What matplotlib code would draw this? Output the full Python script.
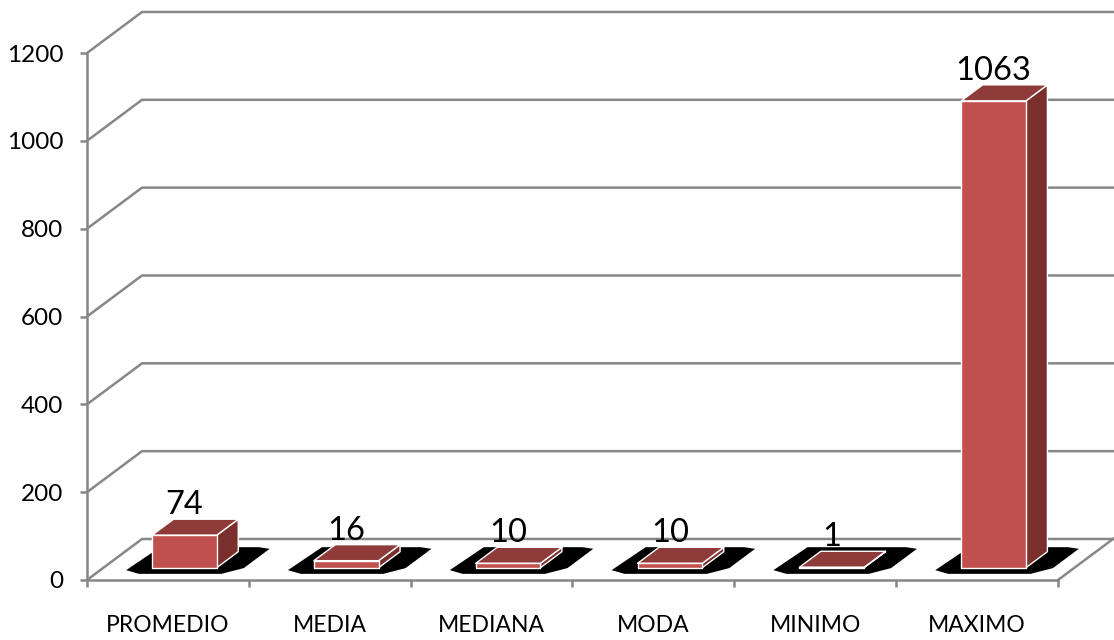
import matplotlib
matplotlib.use("Agg")
import matplotlib.pyplot as plt
from matplotlib.patches import Polygon

categories = ["PROMEDIO", "MEDIA", "MEDIANA", "MODA", "MINIMO", "MAXIMO"]
values = [74, 16, 10, 10, 1, 1063]
y_ticks = [0, 200, 400, 600, 800, 1000, 1200]

plt.rcParams['font.family'] = ['Lato', 'DejaVu Sans']

W, H = 1114, 640
fig = plt.figure(figsize=(W / 100, H / 100), dpi=100)
ax = fig.add_axes([87 / W, 60 / H, 971 / W, 527 / H])
ax.set_xlim(-0.5, 5.5)
ax.set_ylim(0, 1200)

# depth vector (data units) of the pseudo-3D box
DX = 0.34
DY = 93.4

grid_col = '#878787'
lw = 1.8

# back wall gridlines (diagonal on left wall + horizontal on back wall)
for v in y_ticks:
    ax.plot([-0.5, -0.5 + DX, 7.0], [v, v + DY, v + DY], color=grid_col,
            lw=lw, clip_on=False, zorder=1, solid_capstyle='butt')
# floor right edge
ax.plot([5.5, 5.5 + DX * 1.2], [0, DY * 1.2], color=grid_col, lw=lw,
        clip_on=False, zorder=1)

# spines
for s in ['top', 'right']:
    ax.spines[s].set_visible(False)
for s in ['left', 'bottom']:
    ax.spines[s].set_color(grid_col)
    ax.spines[s].set_linewidth(lw)
    ax.spines[s].set_zorder(1)

ax.set_yticks(y_ticks)
ax.set_yticklabels([str(v) for v in y_ticks])
ax.tick_params(axis='y', direction='out', length=5, width=lw, color=grid_col,
               labelsize=17.5, pad=12)
ax.set_xticks(range(len(categories)))
ax.set_xticklabels(categories)
ax.tick_params(axis='x', which='major', length=0, labelsize=16.5, pad=25.5)
ax.set_xticks([i - 0.5 for i in range(len(categories) + 1)], minor=True)
ax.tick_params(axis='x', which='minor', direction='out', length=5, width=lw,
               color=grid_col)

# bars
w = 0.40
d0, d1 = 0.30, 0.69
front_c = '#C0504D'
top_c = '#8E3B39'
side_c = '#7A2F2D'


def P(u, d, y):
    return (u + DX * d, y + DY * d)


shadow_shape = [(-0.23, 0.15), (0.28, 0.15), (0.37, 0.29), (0.37, 0.76),
                (0.29, 0.80), (-0.32, 0.80), (-0.34, 0.24)]

for i, v in enumerate(values):
    sh = [P(i + u, d, 0) for (u, d) in shadow_shape]
    ax.add_patch(Polygon(sh, closed=True, fc='black', ec='none',
                         clip_on=False, zorder=2))
    xl, xr = i - w / 2, i + w / 2
    front = [P(xl, d0, 0), P(xr, d0, 0), P(xr, d0, v), P(xl, d0, v)]
    side = [P(xr, d0, 0), P(xr, d1, 0), P(xr, d1, v), P(xr, d0, v)]
    top = [P(xl, d0, v), P(xr, d0, v), P(xr, d1, v), P(xl, d1, v)]
    for poly, c in ((side, side_c), (top, top_c), (front, front_c)):
        ax.add_patch(Polygon(poly, closed=True, fc=c, ec='white', lw=1.0,
                             joinstyle='round', clip_on=False, zorder=3))
    lx, ly = P(i, d0, v)
    ax.annotate(str(v), xy=(lx, v + DY * d1), xytext=(0, 3.5),
                textcoords='offset points', ha='center', va='baseline',
                fontsize=23.5, color='black', zorder=5, annotation_clip=False)

fig.savefig("out.png", dpi=100)
